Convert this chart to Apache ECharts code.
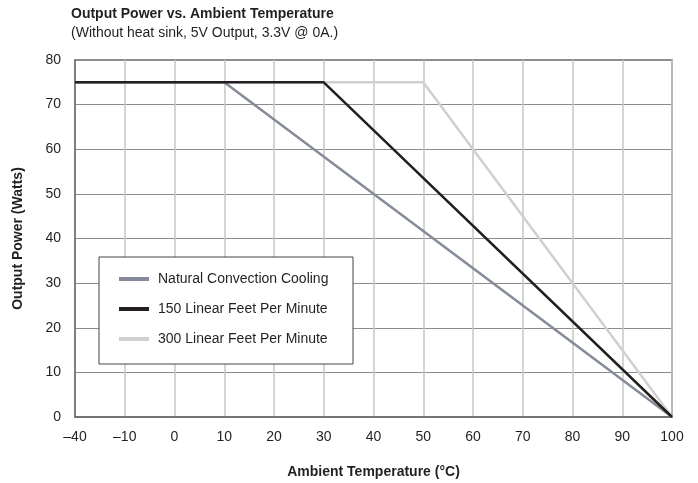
<!DOCTYPE html>
<html>
<head>
<meta charset="utf-8">
<script src="https://cdn.jsdelivr.net/npm/echarts@6/dist/echarts.min.js"></script>
<style>html,body{margin:0;padding:0;background:#fff}#c{width:698px;height:483px}</style>
</head>
<body>
<div id="c"></div>
<script>
// Temperatures in °C, power in Watts
const naturalTemp = [-40, 10, 100];
const naturalPower = [75, 75, 0];
const lfm150Temp = [-40, 30, 100];
const lfm150Power = [75, 75, 0];
const lfm300Temp = [-40, 50, 100];
const lfm300Power = [75, 75, 0];
const seriesNames = ['Natural Convection Cooling', '150 Linear Feet Per Minute', '300 Linear Feet Per Minute'];
const xTickLabels = ['\u201340', '\u201310', '0', '10', '20', '30', '40', '50', '60', '70', '80', '90', '100'];

// the axis is broken: -40..-10 occupies one tick interval
function toAxis(t) { return t < -10 ? -10 + (t + 10) / 3 : t; }
function pairs(xs, ys) { return xs.map((x, i) => [toAxis(x), ys[i]]); }

const FONT = '"Liberation Sans", Arial, Helvetica, sans-serif';
const TXT = '#231f20';
const chart = echarts.init(document.getElementById('c'), null, {renderer: 'canvas'});
chart.setOption({
  animation: false,
  backgroundColor: '#fff',
  textStyle: {fontFamily: FONT},
  title: {
    left: 66, top: 2,
    text: 'Output Power vs. Ambient Temperature',
    subtext: '(Without heat sink, 5V Output, 3.3V @ 0A.)',
    itemGap: 5,
    textStyle: {fontFamily: FONT, fontSize: 14, fontWeight: 'bold', color: TXT},
    subtextStyle: {fontFamily: FONT, fontSize: 14, color: TXT}
  },
  grid: {left: 75, right: 26, top: 60, bottom: 66, outerBoundsMode: 'none', containLabel: false,
         show: true, borderColor: '#6b6b6b', borderWidth: 1.5, backgroundColor: 'transparent'},
  legend: {
    orient: 'vertical', left: 99, top: 257,
    padding: [15, 20, 18, 20],
    itemGap: 16, itemWidth: 30, itemHeight: 4,
    icon: 'rect',
    borderColor: '#444', borderWidth: 1, backgroundColor: '#fff',
    textStyle: {fontFamily: FONT, fontSize: 14, color: TXT, lineHeight: 13, padding: [0, 0, 0, 4], width: 175},
    data: seriesNames
  },
  xAxis: {
    type: 'value', min: -20, max: 100, interval: 10,
    name: 'Ambient Temperature (\u00B0C)', nameLocation: 'middle', nameGap: 48,
    nameTextStyle: {fontFamily: FONT, fontSize: 14, fontWeight: 'bold', color: TXT},
    axisLine: {show: true, onZero: false, lineStyle: {color: '#6b6b6b', width: 1.5}},
    axisTick: {show: false},
    axisLabel: {fontFamily: FONT, fontSize: 14, color: TXT, margin: 13,
      formatter: v => xTickLabels[Math.round((v + 20) / 10)]},
    splitLine: {show: true, lineStyle: {color: '#c6c6c6', width: 1.5}}
  },
  yAxis: {
    type: 'value', min: 0, max: 80, interval: 10,
    name: 'Output Power (Watts)', nameLocation: 'middle', nameGap: 50,
    nameTextStyle: {fontFamily: FONT, fontSize: 14, fontWeight: 'bold', color: TXT},
    axisLine: {show: true, onZero: false, lineStyle: {color: '#6b6b6b', width: 1.5}},
    axisTick: {show: false},
    axisLabel: {fontFamily: FONT, fontSize: 14, color: TXT, margin: 14},
    splitLine: {show: true, lineStyle: {color: '#8c8c8c', width: 1}}
  },
  series: [
    {name: seriesNames[2], type: 'line', data: pairs(lfm300Temp, lfm300Power), showSymbol: false, symbol: 'none',
     color: '#d0d0d0', lineStyle: {color: '#d0d0d0', width: 2.5}, z: 2},
    {name: seriesNames[0], type: 'line', data: pairs(naturalTemp, naturalPower), showSymbol: false, symbol: 'none',
     color: '#858b99', lineStyle: {color: '#858b99', width: 2.5}, z: 3},
    {name: seriesNames[1], type: 'line', data: pairs(lfm150Temp, lfm150Power), showSymbol: false, symbol: 'none',
     color: '#231f20', lineStyle: {color: '#231f20', width: 2.5}, z: 4}
  ]
});
</script>
</body>
</html>
